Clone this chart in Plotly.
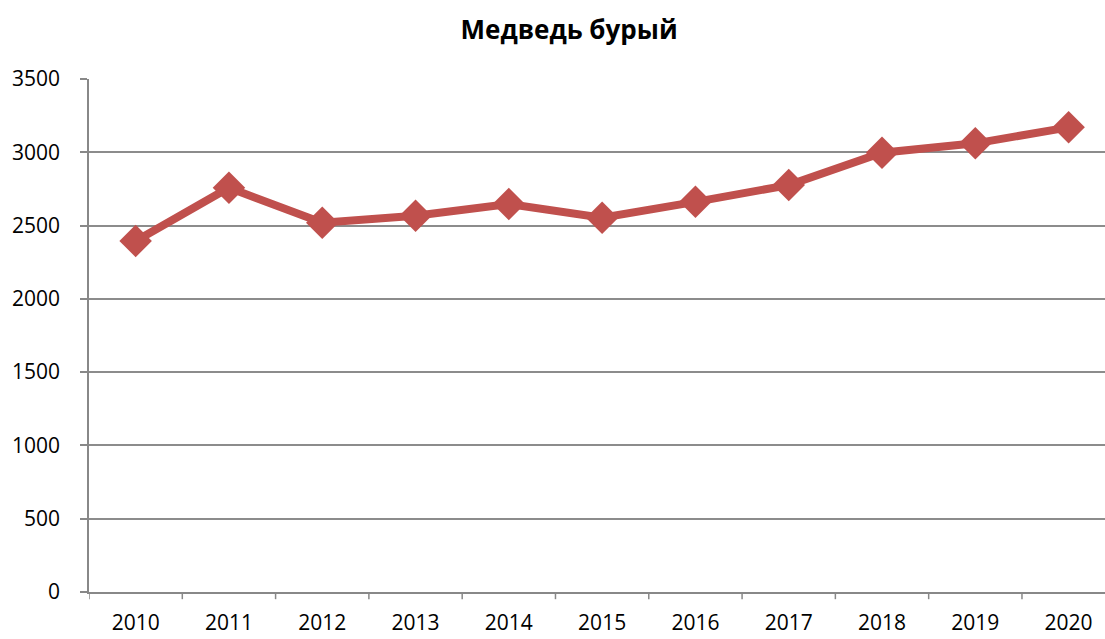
import plotly.graph_objects as go

years = ["2010", "2011", "2012", "2013", "2014", "2015", "2016", "2017", "2018", "2019", "2020"]
values = [2395, 2758, 2519, 2567, 2647, 2553, 2662, 2776, 2997, 3061, 3170]
y_ticks = [0, 500, 1000, 1500, 2000, 2500, 3000, 3500]

color = "#C0504D"
fig = go.Figure()
fig.add_trace(go.Scatter(
    x=list(range(len(years))), y=values, mode="lines+markers",
    line=dict(color=color, width=8),
    marker=dict(symbol="diamond", size=25, color=color),
    showlegend=False,
))
fig.update_layout(
    width=1105, height=639,
    margin=dict(l=89, r=0, t=79, b=47),
    paper_bgcolor="white", plot_bgcolor="white",
    font=dict(family="Open Sans, Liberation Sans, sans-serif", size=21, color="black"),
    title=dict(text="<b>Медведь бурый</b>", x=0.515, xanchor="center", y=0.953, yanchor="middle",
               font=dict(size=26, color="black")),
)
fig.update_xaxes(
    range=[-0.5, 10.39], tickmode="array", tickvals=list(range(len(years))), ticktext=years,
    showgrid=False, showline=True, linecolor="#888888", linewidth=1.5,
    ticks="", zeroline=False, automargin=False, ticklabelstandoff=11,
)
for i in range(len(years) + 1):
    fig.add_shape(type="line", xref="x", yref="paper", x0=i - 0.5, x1=i - 0.5, y0=0, y1=-0.014,
                  line=dict(color="#888888", width=1.5))
fig.update_yaxes(
    range=[0, 3500], tickvals=y_ticks, showgrid=True, gridcolor="#8C8C8C", gridwidth=1.5,
    showline=True, linecolor="#888888", linewidth=1.5, ticks="outside", ticklen=7,
    tickcolor="#888888", tickwidth=1.5, zeroline=False, ticklabelstandoff=16, automargin=False,
)
fig.write_html("out.html", config={"displayModeBar": False},
               post_script="document.body.style.margin='0';document.body.style.overflow='hidden';")
